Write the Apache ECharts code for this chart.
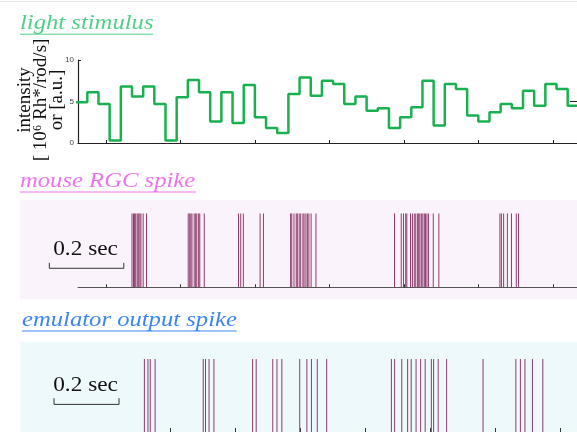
<!DOCTYPE html>
<html><head><meta charset="utf-8">
<script src="https://cdn.jsdelivr.net/npm/echarts@6/dist/echarts.min.js"></script>
<style>html,body{margin:0;padding:0;background:#fff}#c{width:577px;height:432px}</style>
</head><body><div id="c"></div>
<script>
// ---------------- data ----------------
const frameStart = -0.08;   // s, start of the first (partly visible) stimulus frame
const frameDur = 0.03;      // s, duration of one stimulus frame
const stimulusLevels = [4.9, 6.1, 4.7, 0.3, 6.8, 5.6, 6.8, 4.7, 0.3, 5.5, 7.6, 6.1, 2.6, 6.1, 2.4,
  7.0, 3.1, 1.8, 1.2, 5.9, 7.9, 5.7, 7.5, 7.1, 4.7, 5.6, 3.9, 4.2, 1.8, 3.1, 4.3, 7.5, 2.1, 7.1,
  6.5, 3.3, 2.6, 3.7, 4.7, 4.2, 6.3, 4.5, 7.1, 6.5, 4.5];
const mouseSpikes = [0.070, 0.074, 0.077, 0.080, 0.084, 0.087, 0.091, 0.094, 0.100, 0.109,
  0.221, 0.225, 0.228, 0.231, 0.237, 0.241, 0.244, 0.249, 0.252, 0.264,
  0.356, 0.362, 0.369, 0.414, 0.423,
  0.496, 0.499, 0.505, 0.511, 0.514, 0.519, 0.523, 0.529, 0.532, 0.537, 0.541, 0.545, 0.551, 0.564,
  0.775, 0.793, 0.799, 0.805, 0.808, 0.818, 0.823, 0.828, 0.832, 0.837, 0.840, 0.843, 0.847, 0.851,
  0.855, 0.858, 0.862, 0.866, 0.879, 0.894,
  1.058, 1.062, 1.068, 1.078, 1.089, 1.102, 1.108];
const emulatorSpikes = [0.119, 0.130, 0.137, 0.152,
  0.300, 0.307, 0.318, 0.333,
  0.452, 0.463,
  0.514, 0.527, 0.542,
  0.597, 0.619, 0.633, 0.651, 0.680,
  0.879, 0.889, 0.911, 0.929, 0.940, 0.955, 0.969, 0.983, 1.002, 1.009, 1.023, 1.049,
  1.161,
  1.262, 1.276, 1.290, 1.313, 1.345];
const intensityTicks = [0, 5, 10];
const rightTicks = [0, 5];
const mouseTimeTicks = [0, 0.2, 0.4, 0.6, 0.8, 1.0, 1.2];
const emuTimeTicks = [0.2, 0.4, 0.6, 0.8, 1.0, 1.2, 1.4];
const scaleBarLen = 0.2; // s
const titles = ['light stimulus', 'mouse RGC spike', 'emulator output spike'];
const yName = 'intensity\n[ 10\u2076 Rh*/rod/s]\nor [a.u.]';

// ---------------- chart ----------------
const chart = echarts.init(document.getElementById('c'), null, {renderer: 'canvas'});

const stimData = stimulusLevels.map((v, i) => [frameStart + frameDur * i, v]);
stimData.push([frameStart + frameDur * stimulusLevels.length, stimulusLevels[stimulusLevels.length - 1]]);

const spikeColor = '#8e3b6c';
function spikeRender(params, api) {
  const b = api.coord([api.value(0), 0]);
  const t = api.coord([api.value(0), 1]);
  return {type: 'line', shape: {x1: b[0], y1: b[1], x2: t[0], y2: t[1]},
    style: {stroke: spikeColor, lineWidth: 1}};
}

const pxPerSec = 374;
const rgcMin = -0.075, rgcMax = 1.265;
const emuMin = 0, emuMax = 1.45;

chart.setOption({
  animation: false,
  grid: [
    {left: 78, top: 60, width: (rgcMax - rgcMin) * pxPerSec, height: 83},
    {left: 78, top: 213.3, width: (rgcMax - rgcMin) * pxPerSec, height: 74},
    {left: 105.7, top: 359, width: (emuMax - emuMin) * 325, height: 74}
  ],
  xAxis: [
    {gridIndex: 0, type: 'value', min: rgcMin, max: rgcMax,
      axisLine: {onZero: false, lineStyle: {color: '#222', width: 1.2}},
      axisTick: {inside: true, length: 3, customValues: mouseTimeTicks, lineStyle: {color: '#222'}},
      axisLabel: {show: false}, splitLine: {show: false}},
    {gridIndex: 1, type: 'value', min: rgcMin, max: rgcMax,
      axisLine: {onZero: false, lineStyle: {color: '#555', width: 1}},
      axisTick: {inside: true, length: 3, customValues: mouseTimeTicks, lineStyle: {color: '#333'}},
      axisLabel: {show: false}, splitLine: {show: false}},
    {gridIndex: 2, type: 'value', min: emuMin, max: emuMax,
      axisLine: {show: false, onZero: false},
      axisTick: {inside: true, length: 4, customValues: emuTimeTicks, lineStyle: {color: '#333'}},
      axisLabel: {show: false}, splitLine: {show: false}}
  ],
  yAxis: [
    {gridIndex: 0, type: 'value', min: 0, max: 10, interval: 5,
      axisLine: {show: true, onZero: false, lineStyle: {color: '#222', width: 1.2}},
      axisTick: {show: true, inside: true, length: 3, customValues: intensityTicks, lineStyle: {color: '#222'}},
      axisLabel: {fontSize: 8, color: '#444', margin: 4, fontFamily: 'Liberation Sans', customValues: intensityTicks},
      splitLine: {show: false}},
    {gridIndex: 0, type: 'value', min: 0, max: 10, position: 'right',
      axisLine: {show: false, onZero: false},
      axisTick: {show: true, inside: true, length: 7, customValues: rightTicks, lineStyle: {color: '#222'}},
      axisLabel: {show: false}, splitLine: {show: false}},
    {gridIndex: 1, type: 'value', min: 0, max: 1, show: false},
    {gridIndex: 2, type: 'value', min: 0, max: 1, show: false}
  ],
  series: [
    {type: 'line', xAxisIndex: 0, yAxisIndex: 0, step: 'end', data: stimData, showSymbol: false,
      clip: true, lineStyle: {color: '#19b150', width: 2.5}, z: 3},
    {type: 'custom', xAxisIndex: 1, yAxisIndex: 2, data: mouseSpikes.map(t => [t]),
      encode: {x: 0}, renderItem: spikeRender, clip: true},
    {type: 'custom', xAxisIndex: 2, yAxisIndex: 3, data: emulatorSpikes.map(t => [t]),
      encode: {x: 0}, renderItem: spikeRender, clip: false}
  ]
});

// ---------------- decorations (titles, panels, scale bars) ----------------
function scaleBar(xIdx, yIdx, t0, vBar, vTop) {
  const a = chart.convertToPixel({xAxisIndex: xIdx, yAxisIndex: yIdx}, [t0, vBar]);
  const b = chart.convertToPixel({xAxisIndex: xIdx, yAxisIndex: yIdx}, [t0 + scaleBarLen, vTop]);
  const els = [];
  els.push({type: 'polyline', shape: {points: [[a[0], b[1]], [a[0], a[1]], [b[0], a[1]], [b[0], b[1]]]},
    style: {stroke: '#333', lineWidth: 1, fill: null}, z: 5});
  els.push({type: 'text', x: (a[0] + b[0]) / 2 - 1, y: a[1] - 19, scaleX: 1.06,
    style: {text: '0.2 sec', font: '22px "Liberation Serif"', fill: '#111', align: 'center', verticalAlign: 'middle'}, z: 5});
  return els;
}
function title(text, x, base, color, x2) {
  return [
    {type: 'text', x: x, y: base - 7.4, scaleX: 1.12,
      style: {text: text, font: 'italic 22px "Liberation Serif"', fill: color, align: 'left', verticalAlign: 'middle'}, z: 5},
    {type: 'line', shape: {x1: x, y1: base + 3.5, x2: x2, y2: base + 3.5}, style: {stroke: color, lineWidth: 1}, z: 5}
  ];
}
const graphics = [
  {type: 'line', shape: {x1: 0, y1: 1.5, x2: 577, y2: 1.5}, style: {stroke: '#e4e4e4', lineWidth: 1}, z: -5},
  {type: 'rect', shape: {x: 20, y: 200, width: 557, height: 99.3}, style: {fill: '#fbf3fb'}, z: -10},
  {type: 'rect', shape: {x: 20, y: 341.7, width: 557, height: 91}, style: {fill: '#eef9fb'}, z: -10},
  {type: 'text', x: 41, y: 100, rotation: Math.PI / 2,
    style: {text: yName, font: '19px "Liberation Serif"', lineHeight: 16, fill: '#111', align: 'center', verticalAlign: 'middle'}}
]
  .concat(title(titles[0], 20, 30.7, '#52cf87', 153.3))
  .concat(title(titles[1], 20, 188.5, '#ee72ee', 196))
  .concat(title(titles[2], 22, 327.5, '#3b86f6', 236.7))
  .concat(scaleBar(1, 2, -0.152, 0.257, 0.33))
  .concat(scaleBar(2, 3, -0.159, 0.378, 0.463));

chart.setOption({graphic: graphics.map(e => Object.assign({silent: true}, e))});
</script>
</body></html>
